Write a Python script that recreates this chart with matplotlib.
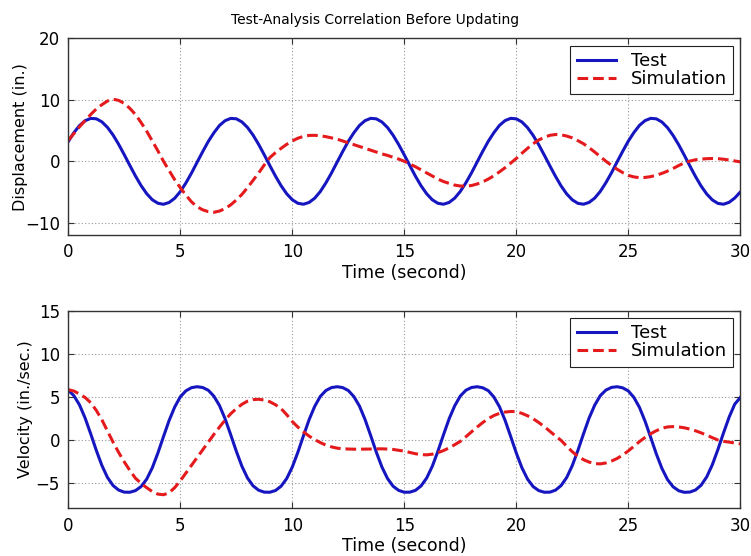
import numpy as np
import matplotlib
matplotlib.use("Agg")
import matplotlib.pyplot as plt

# sample times (s), every quarter second
time = np.arange(0, 30.25, 0.25)

# displacement (in.), one row = 2 s
disp_test = [3.20, 4.65, 5.80, 6.59, 6.97, 6.91, 6.41, 5.51,
             4.27, 2.75, 1.06, -0.69, -2.40, -3.96, -5.27, -6.26,
             -6.83, -7.00, -6.71, -6.02, -4.94, -3.54, -1.93, -0.17,
             1.56, 3.22, 4.63, 5.82, 6.60, 6.97, 6.91, 6.40,
             5.50, 4.25, 2.73, 1.04, -0.72, -2.42, -3.98, -5.29,
             -6.26, -6.84, -6.99, -6.70, -6.01, -4.93, -3.52, -1.91,
             -0.15, 1.58, 3.24, 4.64, 5.83, 6.61, 6.98, 6.90,
             6.39, 5.49, 4.23, 2.71, 1.02, -0.73, -2.45, -4.00,
             -5.30, -6.27, -6.84, -6.99, -6.70, -6.00, -4.91, -3.50,
             -1.89, -0.13, 1.61, 3.26, 4.66, 5.84, 6.62, 6.98,
             6.90, 6.39, 5.47, 4.21, 2.69, 0.99, -0.76, -2.46,
             -4.02, -5.32, -6.28, -6.85, -6.99, -6.69, -5.99, -4.90,
             -3.48, -1.87, -0.10, 1.63, 3.28, 4.68, 5.85, 6.62,
             6.98, 6.90, 6.38, 5.46, 4.19, 2.67, 0.97, -0.78,
             -2.49, -4.04, -5.33, -6.29, -6.86, -6.99, -6.68, -5.98,
             -5.00]
disp_sim = [3.4, 4.5, 5.6, 6.6, 7.6, 8.5, 9.2, 9.8,
            10.1, 9.9, 9.4, 8.6, 7.6, 6.3, 4.9, 3.3,
            1.7, 0.0, -1.5, -3.0, -4.3, -5.5, -6.6, -7.4,
            -7.9, -8.2, -8.3, -8.1, -7.7, -7.1, -6.3, -5.4,
            -4.3, -3.1, -1.9, -0.6, 0.6, 1.4, 2.1, 2.75,
            3.3, 3.75, 4.05, 4.2, 4.22, 4.15, 4.0, 3.8,
            3.6, 3.3, 3.0, 2.7, 2.4, 2.1, 1.8, 1.5,
            1.2, 0.95, 0.65, 0.35, 0.0, -0.45, -0.9, -1.4,
            -1.9, -2.4, -2.9, -3.3, -3.6, -3.88, -4.03, -4.05,
            -3.95, -3.7, -3.35, -2.9, -2.35, -1.72, -1.05, -0.3,
            0.46, 1.3, 2.1, 2.85, 3.46, 3.9, 4.22, 4.35,
            4.3, 4.1, 3.8, 3.35, 2.85, 2.2, 1.5, 0.75,
            0.0, -0.68, -1.3, -1.85, -2.3, -2.55, -2.67, -2.63,
            -2.5, -2.27, -1.97, -1.6, -1.17, -0.7, -0.25, 0.03,
            0.24, 0.35, 0.42, 0.45, 0.42, 0.33, 0.2, 0.05,
            -0.1]

# velocity (in./sec.)
vel_test = [5.76, 5.11, 4.04, 2.52, 0.68, -1.25, -3.01, -4.41,
            -5.35, -5.88, -6.12, -6.13, -5.94, -5.47, -4.61, -3.29,
            -1.57, 0.34, 2.21, 3.78, 4.97, 5.67, 6.04, 6.15,
            6.06, 5.74, 5.05, 3.96, 2.42, 0.57, -1.35, -3.10,
            -4.47, -5.39, -5.90, -6.12, -6.13, -5.93, -5.43, -4.54,
            -3.20, -1.47, 0.45, 2.31, 3.86, 5.02, 5.71, 6.05,
            6.15, 6.05, 5.71, 5.00, 3.89, 2.32, 0.46, -1.46,
            -3.19, -4.53, -5.43, -5.92, -6.13, -6.12, -5.91, -5.39,
            -4.47, -3.11, -1.36, 0.56, 2.41, 3.93, 5.07, 5.74,
            6.06, 6.15, 6.03, 5.69, 4.95, 3.81, 2.23, 0.35,
            -1.57, -3.28, -4.60, -5.47, -5.94, -6.13, -6.12, -5.89,
            -5.35, -4.41, -3.02, -1.26, 0.67, 2.51, 4.01, 5.12,
            5.76, 6.07, 6.15, 6.02, 5.66, 4.90, 3.73, 2.12,
            0.24, -1.67, -3.36, -4.66, -5.50, -5.96, -6.14, -6.11,
            -5.87, -5.31, -4.34, -2.93, -1.15, 0.78, 2.61, 4.12,
            4.9]
vel_sim = [5.8, 5.65, 5.3, 4.9, 4.3, 3.4, 2.3, 1.0,
           -0.3, -1.5, -2.6, -3.6, -4.5, -5.1, -5.6, -6.05,
           -6.35, -6.42, -6.2, -5.6, -4.8, -3.9, -3.0, -2.1,
           -1.2, -0.3, 0.6, 1.45, 2.27, 3.0, 3.6, 4.1,
           4.47, 4.65, 4.69, 4.6, 4.4, 4.05, 3.6, 2.9,
           2.1, 1.45, 0.9, 0.4, 0.0, -0.35, -0.65, -0.85,
           -1.0, -1.07, -1.1, -1.12, -1.12, -1.11, -1.1, -1.08,
           -1.08, -1.1, -1.15, -1.25, -1.35, -1.5, -1.65, -1.75,
           -1.78, -1.7, -1.53, -1.28, -0.97, -0.6, -0.21, 0.33,
           0.9, 1.45, 1.98, 2.43, 2.8, 3.05, 3.2, 3.27,
           3.25, 3.05, 2.77, 2.42, 1.99, 1.5, 0.96, 0.42,
           -0.1, -0.78, -1.42, -1.95, -2.34, -2.62, -2.8, -2.83,
           -2.72, -2.5, -2.2, -1.8, -1.32, -0.78, -0.23, 0.25,
           0.68, 1.03, 1.31, 1.47, 1.51, 1.47, 1.37, 1.22,
           1.02, 0.78, 0.51, 0.22, -0.05, -0.2, -0.3, -0.4,
           -0.5]

title = "Test-Analysis Correlation Before Updating"
xlabel = "Time (second)"
series_names = ["Test", "Simulation"]

plt.rcParams['font.family'] = ['DejaVu Sans']

BLUE = '#1616c0'
RED = '#e41a1c'

fig = plt.figure(figsize=(7.51, 5.56), dpi=100)
ax1 = fig.add_axes([0.0909, 0.5773, 0.8949, 0.3538])
ax2 = fig.add_axes([0.0909, 0.0858, 0.8949, 0.3554])


def style_axes(ax, ylabel, ylim, yticks, ypad):
    ax.set_xlim(0, 30)
    ax.set_ylim(*ylim)
    ax.set_xticks([0, 5, 10, 15, 20, 25, 30])
    ax.set_yticks(yticks)
    ax.grid(True, linestyle=(0, (1, 2)), color='#9a9a9a', linewidth=0.8)
    ax.tick_params(direction='in', top=True, right=True, length=4, width=0.8,
                   labelsize=12, pad=6, color='#333333')
    for sp in ax.spines.values():
        sp.set_color('#333333')
        sp.set_linewidth(1.0)
    ax.set_xlabel(xlabel, fontsize=12.5, labelpad=2)
    ax.set_ylabel(ylabel, fontsize=11.5, labelpad=ypad)
    leg = ax.legend(loc='upper right', fontsize=13, fancybox=False, framealpha=1,
                    edgecolor='#222222', handlelength=2.2, handletextpad=0.8,
                    labelspacing=0.0, borderpad=0.35, borderaxespad=0.4)
    leg.get_frame().set_linewidth(0.8)


ax1.plot(time, disp_test, color=BLUE, lw=2.2, label=series_names[0])
ax1.plot(time, disp_sim, color=RED, lw=2.2, dashes=(3.5, 1.6), label=series_names[1])
style_axes(ax1, "Displacement (in.)", (-12, 20), [-10, 0, 10, 20], -2.5)
ax1.set_title(title, fontsize=10, pad=10, x=0.456)

ax2.plot(time, vel_test, color=BLUE, lw=2.2, label=series_names[0])
ax2.plot(time, vel_sim, color=RED, lw=2.2, dashes=(3.5, 1.6), label=series_names[1])
style_axes(ax2, "Velocity (in./sec.)", (-8, 15), [-5, 0, 5, 10, 15], 1.5)

fig.savefig("out.png", dpi=100)
